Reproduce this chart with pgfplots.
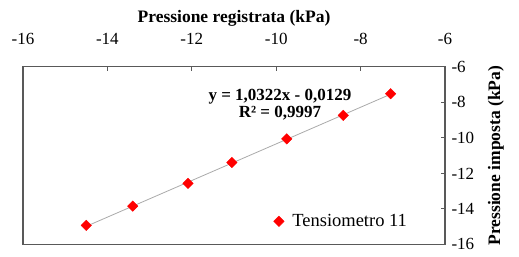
\documentclass[border=0pt]{standalone}
\usepackage{pgfplots}
\pgfplotsset{compat=1.18}
\usepackage{fontspec}
\setmainfont{Liberation Serif}
\definecolor{axgray}{RGB}{89,89,89}
\definecolor{trend}{RGB}{170,170,170}
\begin{document}
\begin{tikzpicture}
\begin{axis}[
  scale only axis,
  width=422pt, height=177.5pt,
  xmin=-16, xmax=-6, ymin=-16, ymax=-6,
  xtick={-16,-14,...,-6}, ytick={-16,-14,...,-6},
  xticklabel pos=right, yticklabel pos=right,
  xtick pos=right, ytick pos=right,
  tick align=inside,
  major tick length=4pt,
  axis line style={axgray, line width=1.1pt},
  tick style={axgray, line width=1.1pt},
  /pgf/number format/assume math mode=true,
  ticklabel style={font=\fontsize{17}{20}\selectfont},
  xticklabel style={yshift=19pt},
  yticklabel style={xshift=3pt},
  xlabel={\textbf{Pressione registrata (kPa)}},
  ylabel={\textbf{Pressione imposta (kPa)}},
  ylabel style={yshift=-7pt},
  label style={font=\fontsize{17.5}{20}\selectfont},
  clip=false,
  legend style={at={(rel axis cs:0.592,0.13)}, anchor=west, draw=none, fill=none,
    font=\fontsize{18.5}{20}\selectfont, inner sep=0pt},
  legend image code/.code={\path (0pt,0pt) (16.9pt,0pt); \draw[#1] plot coordinates {(5.69pt,0pt)};},
  legend cell align=left,
]
\addplot[trend, line width=0.8pt, forget plot] coordinates {(-14.50,-14.98) (-7.29,-7.54)};
\addplot[only marks, mark=square*, mark size=3.7pt, mark options={rotate=45}, color=red, fill=red] coordinates {
  (-14.50,-14.93) (-13.40,-13.84) (-12.09,-12.56) (-11.05,-11.38) (-9.75,-10.05) (-8.41,-8.73) (-7.29,-7.51)};
\addlegendentry{Tensiometro 11}
\node[font=\fontsize{17}{20}\selectfont\bfseries] at (rel axis cs:0.609,0.834) {y = 1,0322x - 0,0129};
\node[font=\fontsize{17}{20}\selectfont\bfseries] at (rel axis cs:0.609,0.738) {R² = 0,9997};
\path[draw=none] (rel axis cs:-0.0545,-0.0676) rectangle (rel axis cs:1.1754,1.377);
\end{axis}
\end{tikzpicture}
\end{document}
